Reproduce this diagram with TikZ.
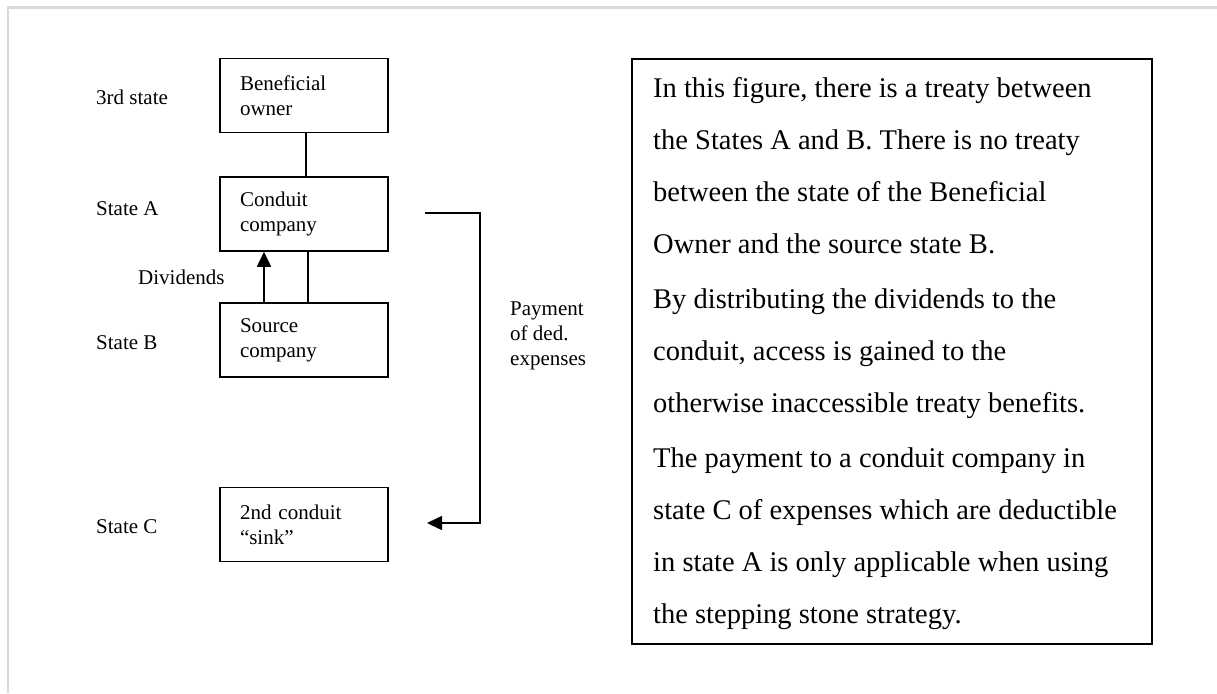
\documentclass[tikz,border=0pt]{standalone}
\usepackage{fontspec}
\setmainfont{Liberation Serif}
\usetikzlibrary{arrows.meta}
\begin{document}
\begin{tikzpicture}[x=1pt, y=-1pt,
        box/.style={draw, line width=1.5pt, minimum width=168pt, minimum height=74pt,
                    text width=128pt, inner xsep=20pt, align=left,
                    font=\fontsize{21pt}{25pt}\selectfont},
        lbl/.style={anchor=west, inner sep=0pt, align=left,
                    font=\fontsize{21pt}{25pt}\selectfont},
        link/.style={line width=1.5pt},
        arr/.style={-{Triangle[width=14pt, length=15pt]}, line width=1.5pt},
    ]
        \useasboundingbox (0,0) rectangle (1217,693);
        % Page frame
        \draw[gray!30, line width=2.5pt] (1217,7.5) -- (8,7.5) -- (8,693);

        % States
        \node[lbl] (st-3) at (96,97) {3rd state};
        \node[lbl] (st-a) at (96,209) {State A};
        \node[lbl] (st-b) at (96,343) {State B};
        \node[lbl] (st-c) at (96,527) {State C};

        % Companies
        \node[box] (benef) at (304,95.5) {Beneficial\\owner};
        \node[box] (conduit) at (304,214) {Conduit\\company};
        \node[box] (source) at (304,340) {Source\\company};
        \node[box] (sink) at (304,524.5) {2nd conduit\\“sink”};

        \draw[link] ([xshift=2pt]benef.south) -- ([xshift=2pt]conduit.north);
        \draw[link] ([xshift=4pt]conduit.south) -- ([xshift=4pt]source.north);
        \draw[arr] ([xshift=-40pt]source.north) -- ([xshift=-40pt]conduit.south);
        \node[lbl] (div) at (138,277) {Dividends};

        % Payment of deductible expenses
        \coordinate (pay-a) at (425,213);
        \coordinate (pay-b) at (427,523);
        \draw[arr] (pay-a) -- ++(55,0) |- (pay-b);
        \node[lbl] (pay) at (510,336) {Payment\\of ded.\\expenses};

        % Explanation
        \node[draw, line width=1.5pt, minimum width=520pt, minimum height=585pt] (note) at (892,351.5) {};
        \node[lbl, font=\fontsize{28.5pt}{52pt}\selectfont] (note-text) at (653,353.5) {In this figure, there is a treaty between\\
            the States A and B. There is no treaty\\
            between the state of the Beneficial\\
            Owner and the source state B.\\[3pt]
            By distributing the dividends to the\\
            conduit, access is gained to the\\
            otherwise inaccessible treaty benefits.\\[3pt]
            The payment to a conduit company in\\
            state C of expenses which are deductible\\
            in state A is only applicable when using\\
            the stepping stone strategy.};
    \end{tikzpicture}
\end{document}
